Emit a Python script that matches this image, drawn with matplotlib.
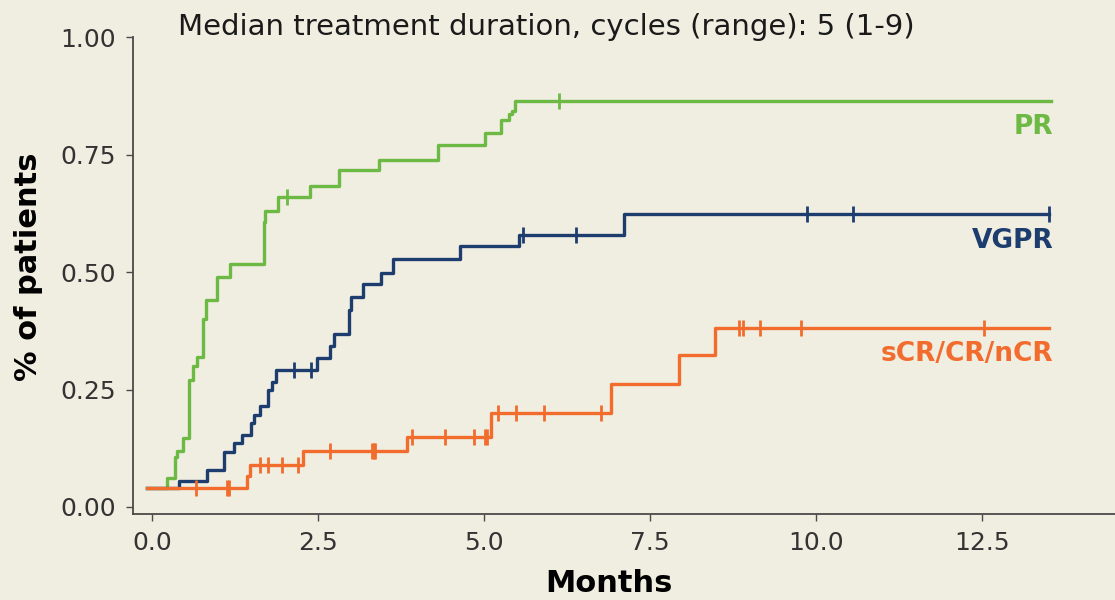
import matplotlib
matplotlib.use('Agg')
import matplotlib.pyplot as plt
import numpy as np

# cumulative response curves (months, fraction of patients)
pr_t = [-0.08, 0.22, 0.35, 0.37, 0.47, 0.56, 0.62, 0.67, 0.76, 0.81, 0.98, 1.17, 1.68, 1.70,
        1.90, 2.38, 2.81, 3.41, 4.31, 5.01, 5.25, 5.38, 5.42, 5.46, 13.53]
pr_v = [0.04, 0.061, 0.107, 0.12, 0.146, 0.27, 0.30, 0.32, 0.40, 0.44, 0.49, 0.518, 0.608, 0.63,
        0.66, 0.684, 0.717, 0.74, 0.77, 0.797, 0.825, 0.836, 0.843, 0.864, 0.864]
pr_cens = [2.03, 6.12]

vgpr_t = [-0.08, 0.41, 0.83, 1.08, 1.23, 1.35, 1.48, 1.53, 1.63, 1.75, 1.80, 1.86, 2.48, 2.68,
          2.74, 2.96, 2.99, 3.17, 3.45, 3.62, 4.64, 5.53, 7.10, 13.51]
vgpr_v = [0.04, 0.055, 0.079, 0.117, 0.136, 0.154, 0.178, 0.196, 0.214, 0.249, 0.267, 0.292, 0.317, 0.342,
          0.369, 0.42, 0.448, 0.475, 0.498, 0.528, 0.555, 0.58, 0.625, 0.625]
vgpr_cens = [2.14, 2.39, 5.59, 6.38, 9.86, 10.56, 13.51]

cr_t = [-0.08, 1.43, 1.47, 2.27, 3.83, 5.10, 6.91, 7.93, 8.48, 13.51]
cr_v = [0.04, 0.065, 0.09, 0.119, 0.148, 0.20, 0.262, 0.324, 0.381, 0.381]
cr_cens = [0.66, 1.12, 1.16, 1.63, 1.75, 1.96, 2.20, 2.68, 3.31, 3.34, 3.36, 3.91, 4.41, 4.85,
           5.01, 5.04, 5.20, 5.48, 5.90, 6.76, 8.83, 8.89, 9.16, 9.77, 12.52]

labels = ['PR', 'VGPR', 'sCR/CR/nCR']
label_y = [0.81, 0.567, 0.326]
cols = ['#6cb944', '#1d3d6e', '#f26c2d']

bg = '#f0ede1'
fig = plt.figure(figsize=(11.15, 6), dpi=100, facecolor=bg)
ax = fig.add_axes([133/1115, 86/600, 982/1115, 476.5/600], facecolor=bg)

series = [(pr_t, pr_v, pr_cens), (vgpr_t, vgpr_v, vgpr_cens), (cr_t, cr_v, cr_cens)]
for idx, (t, v, cens) in enumerate(series):
    t = np.asarray(t); v = np.asarray(v)
    ax.step(t, v, where='post', color=cols[idx], lw=2.4, zorder=2 + idx)
    cy = v[np.searchsorted(t, cens, side='right') - 1]
    ax.plot(cens, cy, ls='none', marker='|', ms=11, mew=2, color=cols[idx], zorder=2 + idx)
    ax.text(13.57, label_y[idx], labels[idx], color=cols[idx], fontsize=19, fontweight='bold',
            ha='right', va='center')

ax.set_xlim(-0.29, 14.5)
ax.set_ylim(-0.015, 1.0)
ax.set_xticks([0, 2.5, 5, 7.5, 10, 12.5])
ax.set_xticklabels(['%.1f' % x for x in [0, 2.5, 5, 7.5, 10, 12.5]])
ax.set_yticks([0, 0.25, 0.5, 0.75, 1.0])
ax.set_yticklabels(['%.2f' % y for y in [0, 0.25, 0.5, 0.75, 1.0]])
for s in ['top', 'right']:
    ax.spines[s].set_visible(False)
for s in ['left', 'bottom']:
    ax.spines[s].set_color('#4a4a4a'); ax.spines[s].set_linewidth(1.3)
ax.tick_params(direction='out', length=5, width=1, color='#4a4a4a', labelcolor='#333333',
               labelsize=18, pad=7)

fig.text(178/1115, 1 - 27/600, 'Median treatment duration, cycles (range): 5 (1-9)',
         fontsize=21, color='#1a1a1a', ha='left', va='center')
fig.text(609/1115, 1 - 584/600, 'Months', fontsize=22, fontweight='bold', ha='center', va='center')
fig.text(29/1115, 1 - 267/600, '% of patients', fontsize=22, fontweight='bold', rotation=90,
         ha='center', va='center')

fig.savefig('out.png', dpi=100, facecolor=bg)
